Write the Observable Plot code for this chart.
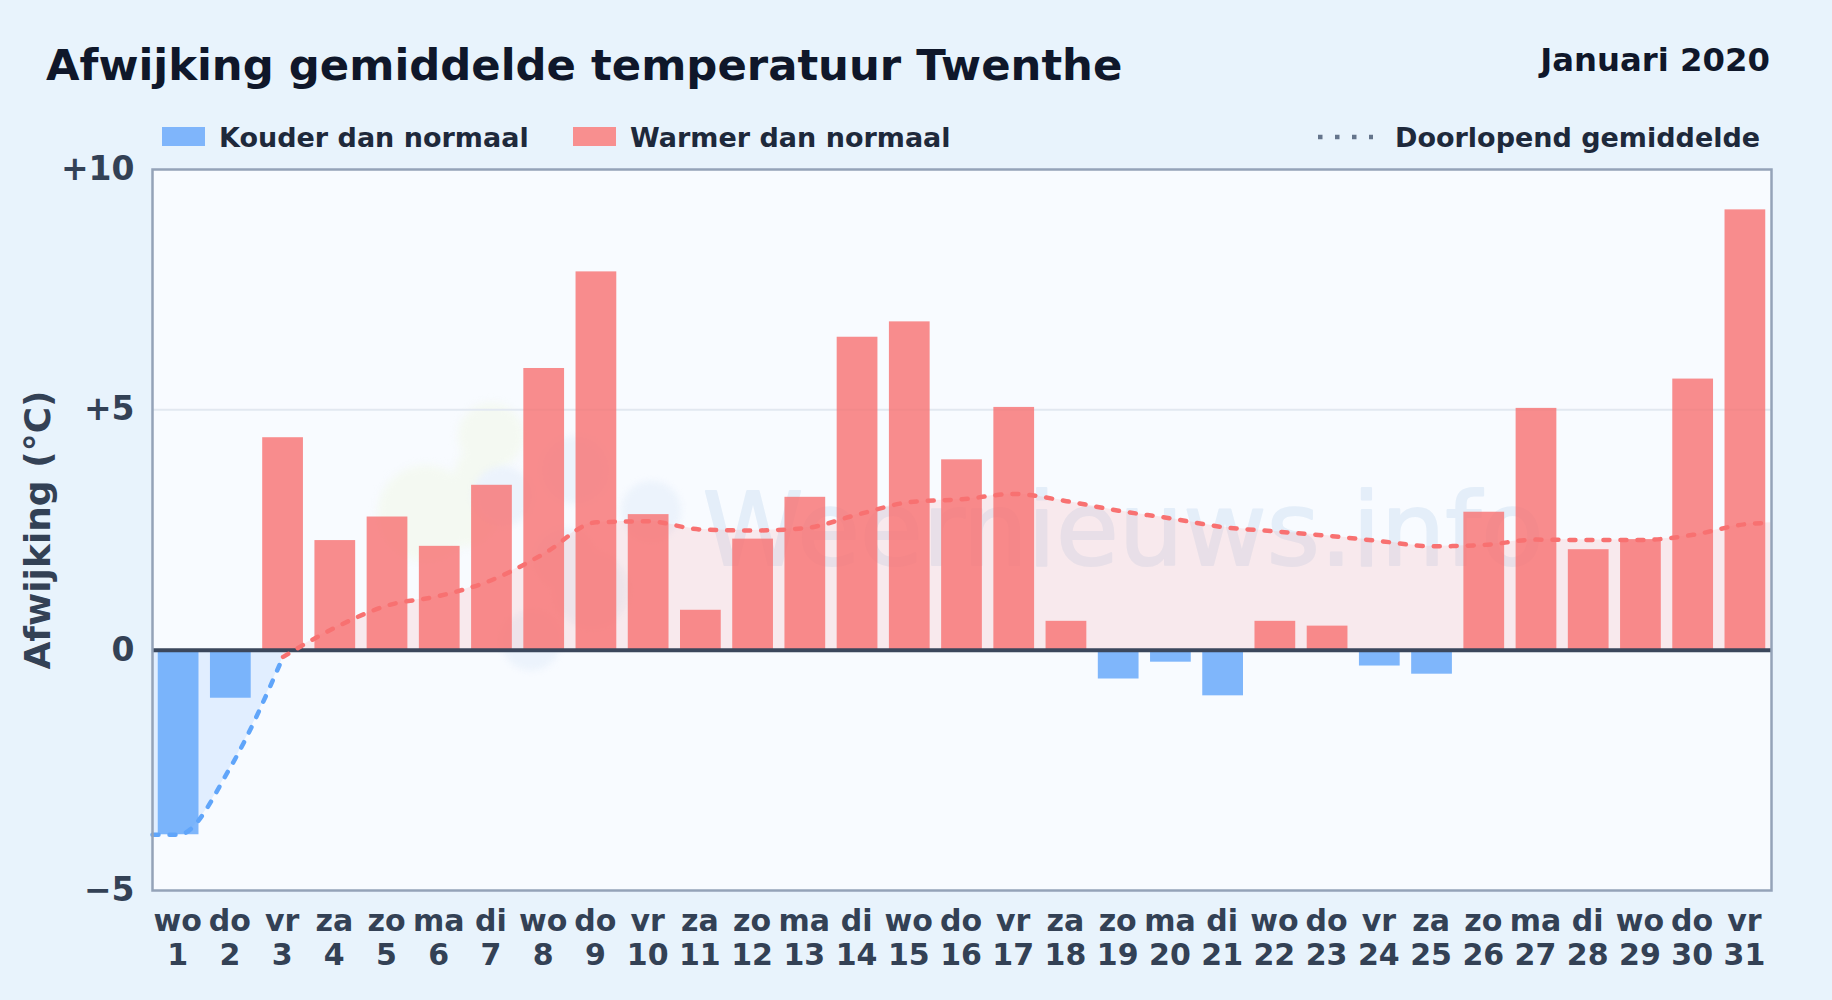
<!DOCTYPE html>
<html lang="nl">
<head>
<meta charset="utf-8">
<title>Afwijking gemiddelde temperatuur Twenthe</title>
<script src="https://cdn.jsdelivr.net/npm/d3@7"></script>
<script src="https://cdn.jsdelivr.net/npm/@observablehq/plot@0.6"></script>
<style>
  html, body { margin: 0; padding: 0; }
  body { width: 1832px; height: 1000px; position: relative; overflow: hidden;
         background: #e8f3fc;
         font-family: "DejaVu Sans", sans-serif; font-weight: 700; }
  .abs { position: absolute; white-space: nowrap; line-height: 1; }
  #title { left: 46px; top: 44px; font-size: 43.35px; color: #0f172a; }
  #period { right: 62px; top: 44px; font-size: 32.3px; color: #0f172a; }
  .leg { top: 123.5px; font-size: 27px; color: #1e293b; }
  .sw { position: absolute; width: 43px; height: 19px; top: 127px; }
  #chart { position: absolute; left: 0; top: 140px; }
</style>
</head>
<body>
<div class="abs" id="title">Afwijking gemiddelde temperatuur Twenthe</div>
<div class="abs" id="period">Januari 2020</div>
<div class="sw" style="left:162px;background:#7fb5fb"></div>
<div class="abs leg" style="left:219px">Kouder dan normaal</div>
<div class="sw" style="left:573px;background:#f88f8f"></div>
<div class="abs leg" style="left:630px">Warmer dan normaal</div>
<svg class="abs" style="left:1315px;top:130px" width="62" height="14"><line x1="3" x2="58" y1="7" y2="7" stroke="#64748b" stroke-width="4.5" stroke-dasharray="4.5 12.5"/></svg>
<div class="abs leg" style="left:1395px">Doorlopend gemiddelde</div>
<div id="chart"></div>
<script>
const days = d3.range(1, 32);
const weekdays = ["wo","do","vr","za","zo","ma","di","wo","do","vr","za","zo","ma","di","wo","do","vr","za","zo","ma","di","wo","do","vr","za","zo","ma","di","wo","do","vr"];
const deviations = [-3.84,-1.0,4.42,2.28,2.77,2.16,3.43,5.86,7.87,2.82,0.83,2.31,3.18,6.51,6.83,3.96,5.05,0.6,-0.6,-0.25,-0.95,0.6,0.5,-0.33,-0.5,2.87,5.03,2.09,2.3,5.64,9.16];
const runDaysCold = [0.5,1,2,3];
const runValuesCold = [-3.84,-3.84,-2.42,-0.14];
const runDaysWarm = [3,4,5,6,7,8,9,10,11,12,13,14,15,16,17,18,19,20,21,22,23,24,25,26,27,28,29,30,31,31.5];
const runValuesWarm = [-0.14,0.47,0.93,1.13,1.46,2.01,2.66,2.68,2.51,2.49,2.54,2.82,3.08,3.14,3.25,3.1,2.9,2.74,2.56,2.47,2.38,2.27,2.16,2.19,2.3,2.29,2.29,2.4,2.62,2.65];
const yTicks = [-5,0,5,10];
const yTickLabels = ["\u22125","0","+5","+10"];
// faint logo behind the chart, in chart units
const logoGreenX = [6.98,6.75,5.73,6.45];
const logoGreenY = [4.46,3.7,2.85,2.9];
const logoGreenR = [33,24,48,36];
const logoBlueX = [7.2,8.6,10.05,8.4,8.9,7.75];
const logoBlueY = [3.2,3.75,2.9,1.9,1.25,0.2];
const logoBlueR = [30,34,30,30,38,30];

const bars = days.map((d,i)=>({x1:d-0.39,x2:d+0.39,v:deviations[i]}));
const cold = runDaysCold.map((d,i)=>({d,v:runValuesCold[i]}));
const warm = runDaysWarm.map((d,i)=>({d,v:runValuesWarm[i]}));
const pts = (xs,ys,rs)=>xs.map((x,i)=>({x,y:ys[i],r:rs[i]}));
const common = {curve:"monotone-x"};
const dash = {strokeWidth:4.5,strokeDasharray:"6 11",strokeLinecap:"round"};

const plot = Plot.plot({
  width:1832, height:860,
  marginLeft:152, marginRight:61, marginTop:29, marginBottom:110,
  style:{background:"transparent",fontFamily:"'DejaVu Sans',sans-serif",fontWeight:700,overflow:"visible"},
  x:{domain:[0.5,31.5]},
  y:{domain:[-5,10]},
  r:{type:"identity"},
  marks:[
    Plot.frame({fill:"#f8fbff",stroke:null}),
    Plot.dot(pts(logoGreenX,logoGreenY,logoGreenR),{x:"x",y:"y",r:"r",fill:"#f4f9f2",imageFilter:"blur(4px)"}),
    Plot.dot(pts(logoBlueX,logoBlueY,logoBlueR),{x:"x",y:"y",r:"r",fill:"#ecf3fc",imageFilter:"blur(3px)"}),
    Plot.text(["Weernieuws.info"],{x:11.03,y:1.77,textAnchor:"start",lineAnchor:"bottom",fontSize:102,fontWeight:400,fill:"#e4eef9",stroke:"#e4eef9",strokeWidth:2}),
    Plot.ruleY([5],{stroke:"#e2e8f0",strokeWidth:2}),
    Plot.areaY(cold,{x:"d",y1:0,y2:"v",...common,fill:"#bfdbfe",fillOpacity:0.4}),
    Plot.areaY(warm,{x:"d",y1:0,y2:"v",...common,fill:"#fca5a5",fillOpacity:0.2}),
    Plot.rectY(bars,{x1:"x1",x2:"x2",y1:0,y2:"v",fill:d=>d.v<0?"#60a5fa":"#f87171",fillOpacity:0.8}),
    Plot.ruleY([0],{stroke:"#3b475c",strokeWidth:4}),
    Plot.line(cold,{x:"d",y:"v",...common,stroke:"#60a5fa",...dash}),
    Plot.line(warm,{x:"d",y:"v",...common,stroke:"#f87171",...dash}),
    Plot.frame({stroke:"#94a3b8",strokeWidth:2.5}),
    Plot.axisY({ticks:yTicks,tickFormat:d=>yTickLabels[yTicks.indexOf(d)],tickSize:0,tickPadding:18,label:null,fontSize:33,fill:"#334155"}),
    Plot.axisX({ticks:days,tickFormat:(d,i)=>weekdays[d-1]+"\n"+d,tickSize:0,tickPadding:17,dx:-1,label:null,fontSize:30,lineHeight:1.12,fill:"#334155"}),
    Plot.text(["Afwijking (\u00b0C)"],{frameAnchor:"left",textAnchor:"middle",dx:-114,rotate:-90,fontSize:36,fill:"#334155"})
  ]
});
document.getElementById("chart").appendChild(plot);
</script>
</body>
</html>
